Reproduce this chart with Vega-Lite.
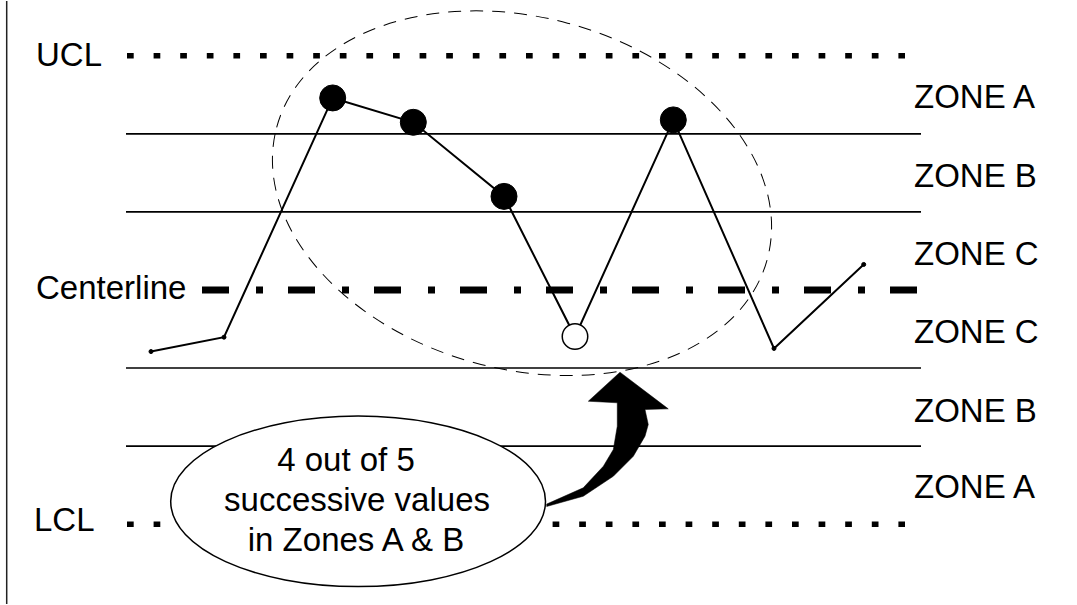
{
  "$schema": "https://vega.github.io/schema/vega-lite/v6.json",
  "width": 1077,
  "height": 605,
  "padding": 0,
  "autosize": {"type": "fit", "contains": "padding"},
  "background": "white",
  "config": {"view": {"stroke": null}},
  "encoding": {
    "x": {"field": "x", "type": "quantitative", "scale": {"domain": [0, 1077], "nice": false, "zero": false}, "axis": null},
    "y": {"field": "y", "type": "quantitative", "scale": {"domain": [-4.023, 3.702], "nice": false, "zero": false}, "axis": null}
  },
  "layer": [
    {
      "data": {"values": [{"x": 6.7, "y": 3.702, "y2": -4.023}]},
      "mark": {"type": "rule", "color": "#222222", "strokeWidth": 1.5},
      "encoding": {"y2": {"field": "y2"}}
    },
    {
      "data": {"values": [
        {"x": 126, "x2": 921, "y": 2},
        {"x": 126, "x2": 921, "y": 1},
        {"x": 126, "x2": 921, "y": -1},
        {"x": 126, "x2": 921, "y": -2}
      ]},
      "mark": {"type": "rule", "color": "black", "strokeWidth": 1.6},
      "encoding": {"x2": {"field": "x2"}}
    },
    {
      "data": {"values": [
        {"x": 127, "x2": 905, "y": 3},
        {"x": 127, "x2": 905, "y": -3}
      ]},
      "mark": {"type": "rule", "color": "black", "strokeWidth": 5.5, "strokeDash": [6.7, 19.9], "strokeCap": "butt"},
      "encoding": {"x2": {"field": "x2"}}
    },
    {
      "data": {"values": [{"x": 202, "x2": 918, "y": 0}]},
      "mark": {"type": "rule", "color": "black", "strokeWidth": 7, "strokeDash": [27, 27, 7, 25], "strokeCap": "butt"},
      "encoding": {"x2": {"field": "x2"}}
    },
    {
      "data": {"values": [{"x": 522, "y": 1.24}]},
      "mark": {
        "type": "point",
        "shape": "M -1 0 C -1 -0.3827 -0.5523 -0.693 0 -0.693 C 0.5523 -0.693 1 -0.3827 1 0 C 1 0.3827 0.5523 0.693 0 0.693 C -0.5523 0.693 -1 0.3827 -1 0 Z",
        "size": 258064,
        "angle": 15,
        "filled": false,
        "fill": null,
        "stroke": "black",
        "strokeWidth": 1,
        "strokeDash": [13, 9],
        "opacity": 1
      }
    },
    {
      "data": {"name": "series", "values": [
        {"x": 151, "y": -0.789, "type": "small"},
        {"x": 224, "y": -0.605, "type": "small"},
        {"x": 332.7, "y": 2.46, "type": "big"},
        {"x": 413.3, "y": 2.148, "type": "big"},
        {"x": 504, "y": 1.199, "type": "big"},
        {"x": 575, "y": -0.597, "type": "open"},
        {"x": 673.3, "y": 2.179, "type": "big"},
        {"x": 774, "y": -0.749, "type": "small"},
        {"x": 863.7, "y": 0.327, "type": "small"}
      ]},
      "layer": [
        {
          "mark": {"type": "line", "color": "black", "strokeWidth": 2}
        },
        {
          "transform": [{"filter": "datum.type === 'big'"}],
          "mark": {"type": "point", "shape": "circle", "filled": true, "opacity": 1, "fill": "black", "stroke": "black", "strokeWidth": 1, "size": 676}
        },
        {
          "transform": [{"filter": "datum.type === 'open'"}],
          "mark": {"type": "point", "shape": "circle", "filled": true, "opacity": 1, "fill": "white", "stroke": "black", "strokeWidth": 1.5, "size": 650}
        },
        {
          "transform": [{"filter": "datum.type === 'small'"}],
          "mark": {"type": "point", "shape": "circle", "filled": true, "opacity": 1, "fill": "black", "stroke": "black", "strokeWidth": 1, "size": 16}
        }
      ]
    },
    {
      "data": {"values": [{"x": 358.1, "y": -2.708}]},
      "mark": {
        "type": "point",
        "shape": "M -1 0 C -1 -0.2513 -0.5523 -0.455 0 -0.455 C 0.5523 -0.455 1 -0.2513 1 0 C 1 0.2513 0.5523 0.455 0 0.455 C -0.5523 0.455 -1 0.2513 -1 0 Z",
        "size": 140475,
        "filled": true,
        "fill": "white",
        "stroke": "black",
        "strokeWidth": 1.5,
        "opacity": 1
      }
    },
    {
      "data": {"values": [{"x": 607, "y": -1.916}]},
      "mark": {
        "type": "point",
        "shape": "M -0.887 0.949 L -0.349 0.71 L -0.054 0.393 L 0.093 0.147 L 0.151 -0.196 L 0.151 -0.54 L -0.275 -0.563 L 0.191 -0.99 L 0.901 -0.451 L 0.559 -0.441 L 0.607 -0.221 L 0.559 -0.049 L 0.387 0.246 L 0.093 0.54 L -0.349 0.834 L -0.887 0.985 Z",
        "size": 18496,
        "filled": true,
        "fill": "black",
        "stroke": "black",
        "strokeWidth": 0.5,
        "opacity": 1
      }
    },
    {
      "data": {"values": [
        {"x": 36, "y": 2.872, "label": "UCL"},
        {"x": 36, "y": -0.12, "label": "Centerline"},
        {"x": 34, "y": -3.091, "label": "LCL"},
        {"x": 914, "y": 2.336, "label": "ZONE A"},
        {"x": 914, "y": 1.315, "label": "ZONE B"},
        {"x": 914, "y": 0.318, "label": "ZONE C"},
        {"x": 914, "y": -0.677, "label": "ZONE C"},
        {"x": 914, "y": -1.693, "label": "ZONE B"},
        {"x": 914, "y": -2.669, "label": "ZONE A"}
      ]},
      "mark": {"type": "text", "align": "left", "baseline": "alphabetic", "font": "Liberation Sans", "fontSize": 33, "color": "black"},
      "encoding": {"text": {"field": "label", "type": "nominal"}}
    },
    {
      "data": {"values": [
        {"x": 346, "y": -2.321, "label": "4 out of 5"},
        {"x": 357, "y": -2.831, "label": "successive values"},
        {"x": 356, "y": -3.342, "label": "in Zones A & B"}
      ]},
      "mark": {"type": "text", "align": "center", "baseline": "alphabetic", "font": "Liberation Sans", "fontSize": 33, "color": "black"},
      "encoding": {"text": {"field": "label", "type": "nominal"}}
    }
  ]
}
